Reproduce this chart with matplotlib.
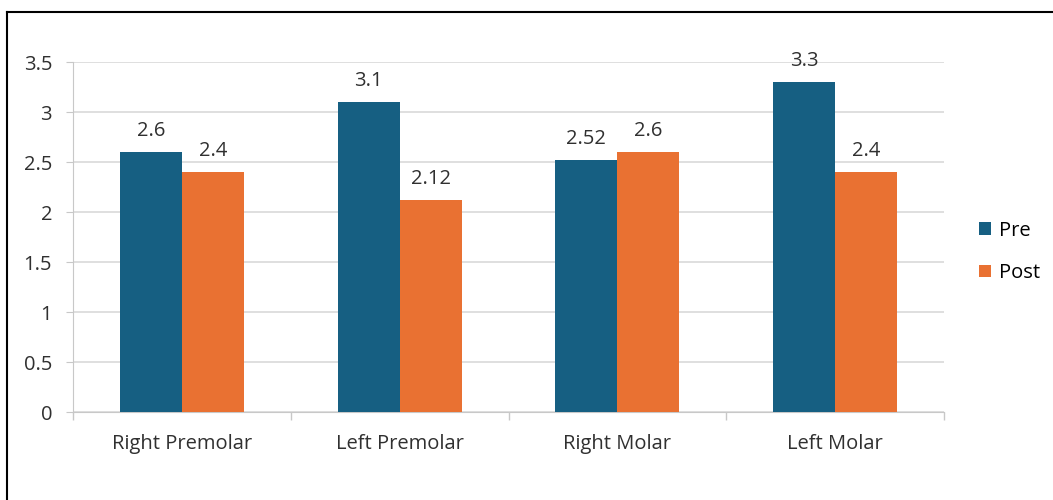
import matplotlib.pyplot as plt
import numpy as np
from matplotlib.lines import Line2D

categories = ["Right Premolar", "Left Premolar", "Right Molar", "Left Molar"]
pre = [2.6, 3.1, 2.52, 3.3]
post = [2.4, 2.12, 2.6, 2.4]
pre_labels = ["2.6", "3.1", "2.52", "3.3"]
post_labels = ["2.4", "2.12", "2.6", "2.4"]
y_ticks = [0, 0.5, 1, 1.5, 2, 2.5, 3, 3.5]
y_tick_labels = ["0", "0.5", "1", "1.5", "2", "2.5", "3", "3.5"]

plt.rcParams["font.family"] = ["Open Sans", "DejaVu Sans"]

W, H = 1053, 500
fig = plt.figure(figsize=(W / 100, H / 100), dpi=100)
ax = fig.add_axes([73 / W, 1 - 412 / H, (944 - 73) / W, (412 - 62) / H])

# outer chart frame (only left/top visible in crop)
fig.add_artist(Line2D([7 / W, 7 / W], [0, 1 - 12 / H], color="black", lw=1.5))
fig.add_artist(Line2D([7 / W, 1], [1 - 12 / H, 1 - 12 / H], color="black", lw=1.5))

x = np.arange(len(categories))
bw = 0.285
blue = "#165f82"
orange = "#e97132"
txt = "#303030"
fs = 14.5
b1 = ax.bar(x - bw / 2, pre, bw, color=blue, label="Pre", zorder=3)
b2 = ax.bar(x + bw / 2, post, bw, color=orange, label="Post", zorder=3)
ax.bar_label(b1, labels=pre_labels, padding=8, fontsize=fs, color=txt)
ax.bar_label(b2, labels=post_labels, padding=8, fontsize=fs, color=txt)

ax.set_xlim(-0.5, len(categories) - 0.5)
ax.set_ylim(0, 3.5)
ax.set_yticks(y_ticks)
ax.set_yticklabels(y_tick_labels, fontsize=fs, color=txt)
ax.set_xticks(x)
ax.set_xticklabels(categories, fontsize=fs, color=txt)
ax.tick_params(axis="x", length=0, pad=16)
ax.tick_params(axis="y", length=5, color="#c8c8c8", pad=10)
ax.set_xticks(np.arange(-0.5, len(categories) + 0.5, 1), minor=True)
ax.tick_params(axis="x", which="minor", length=6, color="#c8c8c8", width=1)

ax.grid(axis="y", color="#d9d9d9", lw=1.2, zorder=0)
for s in ["top", "right"]:
    ax.spines[s].set_visible(False)
ax.spines["left"].set_color("#c8c8c8")
ax.spines["bottom"].set_color("#c8c8c8")

fig.legend(handles=[b1, b2], loc="center left", bbox_to_anchor=(961 / W, 1 - 252 / H),
           frameon=False, fontsize=fs, handlelength=0.6, handleheight=0.6,
           handletextpad=0.4, labelspacing=1.1)

fig.savefig("out.png", dpi=100)
